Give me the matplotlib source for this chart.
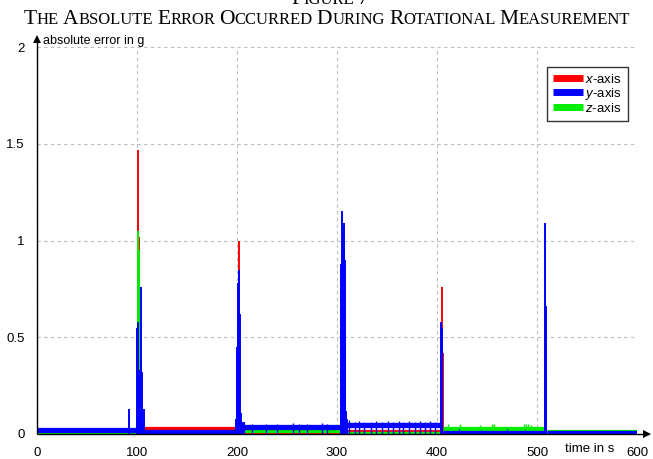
import matplotlib
matplotlib.use("Agg")
import matplotlib.pyplot as plt
from matplotlib.offsetbox import TextArea, HPacker, AnchoredOffsetbox
from matplotlib.lines import Line2D

plt.rcParams['font.family'] = ['Liberation Sans', 'DejaVu Sans']
plt.rcParams['mathtext.fontset'] = 'custom'
plt.rcParams['mathtext.it'] = 'Liberation Sans:italic'
plt.rcParams['mathtext.rm'] = 'Liberation Sans'

# ---------------- data ----------------
series_names = ["$x$-axis", "$y$-axis", "$z$-axis"]
series_colors = ["#ff0000", "#0000ff", "#00ee00"]

# baseline levels per segment: start, end, level (g)
x_seg_start = [0, 103, 203, 308, 406, 510]
x_seg_end = [100, 200, 304, 404, 507, 600]
x_seg_level = [0.006, 0.026, 0.006, 0.008, 0.004, 0.003]

y_seg_start = [0, 104, 204, 309, 406, 510]
y_seg_end = [100, 200, 303, 404, 507, 600]
y_seg_level = [0.022, 0.008, 0.036, 0.047, 0.005, 0.005]

z_seg_start = [0, 103, 203, 308, 406, 510]
z_seg_end = [100, 200, 304, 404, 507, 600]
z_seg_level = [0.003, 0.004, 0.022, 0.002, 0.027, 0.008]

# spikes: time (s), peak (g)
x_spike_t = [101.0, 101.5, 102.0, 102.5, 201.0, 201.5, 202.0, 305.0, 305.5, 306.0, 404.5, 405.0, 405.5, 508.0]
x_spike_v = [1.47, 1.02, 0.62, 0.40, 0.78, 1.00, 0.60, 0.57, 0.82, 0.42, 0.76, 0.50, 0.42, 0.38]

y_spike_t = [92.0, 99.5, 100.0, 100.5, 101.5, 102.0, 103.0, 104.0, 104.5, 105.0, 107.0,
             199.0, 199.5, 200.0, 200.5, 201.0, 202.0, 202.5, 203.5, 205.0, 206.5,
             303.5, 304.0, 304.5, 305.0, 305.5, 306.0, 306.5, 307.0, 307.5, 308.0, 309.0, 310.0,
             403.5, 404.0, 404.5, 405.0,
             507.5, 508.0, 508.5, 509.0]
y_spike_v = [0.13, 0.12, 0.55, 0.58, 0.30, 0.33, 0.30, 0.76, 0.32, 0.30, 0.13,
             0.08, 0.32, 0.45, 0.55, 0.78, 0.85, 0.62, 0.11, 0.06, 0.06,
             0.85, 0.88, 0.93, 1.15, 1.04, 0.97, 0.98, 1.09, 0.90, 0.50, 0.12, 0.08,
             0.30, 0.58, 0.55, 0.45,
             0.40, 1.09, 0.66, 0.30]

z_spike_t = [100.5, 101.0, 101.5, 102.0, 200.5, 201.0, 201.5, 305.0, 305.5, 405.0, 508.0]
z_spike_v = [0.45, 1.05, 0.95, 0.30, 0.45, 0.60, 0.40, 0.22, 0.10, 0.05, 0.05]

# small noise ticks on the baselines: time (s), height (g)
x_tick_t = [12, 18, 25, 40, 56, 61, 110, 118, 125, 131, 140, 147, 152, 163, 171, 178, 186, 194,
            415, 423, 431, 447, 455, 463, 470, 476, 481, 488, 495, 500]
x_tick_v = [0.012, 0.012, 0.012, 0.012, 0.012, 0.012, 0.035, 0.032, 0.036, 0.033, 0.035, 0.032,
            0.036, 0.034, 0.035, 0.033, 0.036, 0.034,
            0.012, 0.012, 0.012, 0.012, 0.012, 0.012, 0.012, 0.012, 0.012, 0.012, 0.012, 0.012]
y_tick_t = [207, 215, 229, 240, 256, 262, 270, 285, 290,
            312, 318, 322, 327, 334, 339, 345, 351, 356, 362, 366, 372, 378, 383, 388, 393, 398,
            422, 444, 470, 488, 535, 550, 580]
y_tick_v = [0.05, 0.05, 0.05, 0.05, 0.055, 0.05, 0.05, 0.055, 0.05,
            0.07, 0.06, 0.065, 0.06, 0.06, 0.065, 0.06, 0.065, 0.06, 0.065, 0.06, 0.065, 0.06, 0.065, 0.06, 0.065, 0.06,
            0.025, 0.02, 0.025, 0.02, 0.015, 0.015, 0.015]
z_tick_t = [411, 423, 443, 455, 457, 487, 489, 491, 494, 512, 517]
z_tick_v = [0.05, 0.05, 0.045, 0.05, 0.05, 0.05, 0.05, 0.05, 0.045, 0.02, 0.02]

y_ticks = [0, 0.5, 1, 1.5, 2]
y_tick_labels = ["0", "0.5", "1", "1.5", "2"]
x_ticks = [0, 100, 200, 300, 400, 500, 600]
x_tick_labels = ["0", "100", "200", "300", "400", "500", "600"]

# ---------------- figure ----------------
W, H = 653, 459
fig = plt.figure(figsize=(W / 100, H / 100), dpi=100)
x0, x1 = 37, 637
ytop, ybot = 47, 434
ax = fig.add_axes([x0 / W, (H - ybot) / H, (x1 - x0) / W, (ybot - ytop) / H])
ax.set_xlim(0, 600)
ax.set_ylim(0, 2)

for s in ["top", "right", "left", "bottom"]:
    ax.spines[s].set_visible(False)

ax.set_yticks(y_ticks)
ax.set_yticklabels(y_tick_labels)
ax.set_xticks(x_ticks)
ax.set_xticklabels(x_tick_labels)
ax.tick_params(axis="both", length=0, labelsize=9.5)
ax.tick_params(axis="y", pad=9)
ax.tick_params(axis="x", pad=9)
ax.grid(True, color="#bdbdbd", linestyle=(0, (3, 3)), linewidth=0.8, zorder=0)
ax.set_axisbelow(True)

for i, (ss, se, sl, st, sv, tt, tv, zo) in enumerate([
    (x_seg_start, x_seg_end, x_seg_level, x_spike_t, x_spike_v, x_tick_t, x_tick_v, 3),
    (y_seg_start, y_seg_end, y_seg_level, y_spike_t, y_spike_v, y_tick_t, y_tick_v, 5),
    (z_seg_start, z_seg_end, z_seg_level, z_spike_t, z_spike_v, z_tick_t, z_tick_v, 4),
]):
    c = series_colors[i]
    ax.hlines(sl, ss, se, colors=c, linewidth=3.8, zorder=zo)
    ax.vlines(st, 0, sv, colors=c, linewidth=1.4, zorder=zo)
    ax.vlines(tt, 0, tv, colors=c, linewidth=1.0, zorder=zo)

# axes lines with arrows
ax.plot([0, 0], [0, 2.04], color="black", lw=1.0, clip_on=False, zorder=8,
        solid_capstyle="butt")
ax.plot([0, 612], [0, 0], color="black", lw=1.0, clip_on=False, zorder=8,
        solid_capstyle="butt")
ax.plot([0], [2.04], marker="^", markersize=6, color="black", clip_on=False, zorder=9,
        markeredgewidth=0)
ax.plot([610], [0], marker=">", markersize=6, color="black", clip_on=False, zorder=9,
        markeredgewidth=0)

ax.text(6, 2.03, "absolute error in g", fontsize=9, va="center", ha="left")
ax.text(553, -0.078, "time in s", fontsize=9.5, va="center", ha="center",
        transform=ax.transData, clip_on=False)

handles = [Line2D([], [], color=c, lw=5, solid_capstyle="butt") for c in series_colors]
leg = ax.legend(handles, series_names, loc="upper right", bbox_to_anchor=(0.985, 0.948),
                borderaxespad=0, fontsize=9.5, handlelength=2.3, handletextpad=0.15,
                labelspacing=0.0, borderpad=0.45, fancybox=False, framealpha=1,
                edgecolor="#333333")
leg.get_frame().set_linewidth(1.0)
leg.set_zorder(10)


# small caps title
def small_caps(text, big, small):
    parts = []
    for k, word in enumerate(text.split(" ")):
        if k > 0:
            parts.append(TextArea(" ", textprops=dict(fontsize=small, family="Liberation Serif")))
        parts.append(TextArea(word[0], textprops=dict(fontsize=big, family="Liberation Serif")))
        if len(word) > 1:
            parts.append(TextArea(word[1:], textprops=dict(fontsize=small, family="Liberation Serif")))
    return HPacker(children=parts, pad=0, sep=0, align="baseline")


title_box = small_caps("THE ABSOLUTE ERROR OCCURRED DURING ROTATIONAL MEASUREMENT", 15.5, 12.0)
ab = AnchoredOffsetbox(loc="center", child=title_box, frameon=False, pad=0,
                       bbox_to_anchor=(327 / W, 1 - 20 / H), bbox_transform=fig.transFigure)
fig.add_artist(ab)
fig_box = small_caps("FIGURE 7", 15.5, 12.0)
ab2 = AnchoredOffsetbox(loc="center", child=fig_box, frameon=False, pad=0,
                        bbox_to_anchor=(330 / W, 1 + 1 / H), bbox_transform=fig.transFigure)
fig.add_artist(ab2)

fig.savefig("out.png", dpi=100)
